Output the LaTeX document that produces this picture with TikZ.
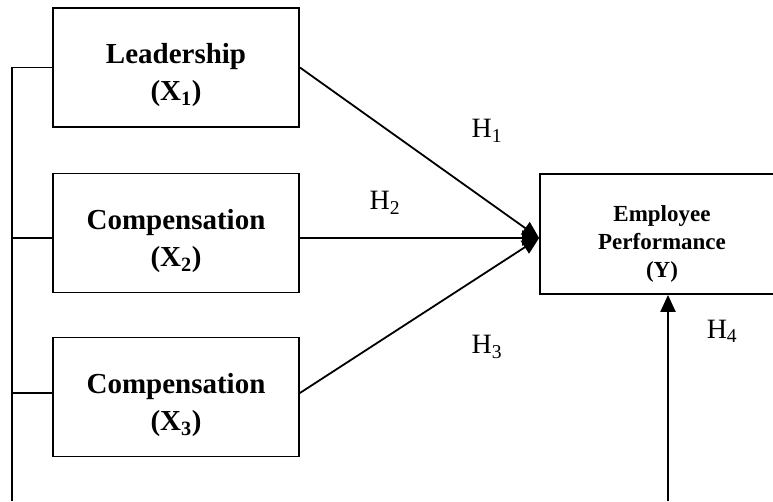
\documentclass[tikz,border=0pt]{standalone}
\usepackage{fontspec}
\setmainfont{Liberation Serif}
\usetikzlibrary{arrows.meta}

\newcommand\topgap[1]{\rule{0pt}{#1}}

\tikzset{
  var/.style={draw, line width=1.8pt, minimum width=246pt, minimum height=119pt,
    inner sep=0pt, align=center, font=\fontsize{29}{37}\selectfont\bfseries},
  dep/.style={var, minimum width=244pt, minimum height=120pt,
    font=\fontsize{23}{28}\selectfont\bfseries},
  hyp/.style={font=\fontsize{28}{30}\selectfont, inner sep=0pt},
  rel/.style={line width=1.8pt, -{Triangle[length=17pt,width=15pt]}}
}

\begin{document}
\begin{tikzpicture}[x=1pt,y=-1pt]
\useasboundingbox (0,0) rectangle (773,501);
\clip (0,0) rectangle (773,501);

\node (x1) [var] at (176,67.5) {\topgap{36pt}Leadership\\(X\textsubscript{1})};
\node (x2) [var] at (176,233) {\topgap{36pt}Compensation\\(X\textsubscript{2})};
\node (x3) [var] at (176,397) {\topgap{36pt}Compensation\\(X\textsubscript{3})};
\node (y) [dep] at (662,234) {\topgap{36pt}Employee\\Performance\\(Y)};

\path (12,501) coordinate (bus) (668,501) coordinate (yb);
\path ([yshift=-4pt]y.west) coordinate (yin);

\draw[line width=1.8pt] (x1.west) -| (bus);
\draw[line width=1.8pt] ([yshift=-5pt]x2.west) -- ++(-41,0);
\draw[line width=1.8pt] ([yshift=4pt]x3.west) -- ++(-41,0);

\draw[rel] (x1.east) -- (yin);
\draw[rel] ([yshift=-5pt]x2.east) -- (yin);
\draw[rel] ([yshift=4pt]x3.east) -- (yin);
\draw[rel, line width=2.2pt] (yb) -- (y.south -| yb);

\node (h1) [hyp] at (487,131) {H\textsubscript{1}};
\node (h2) [hyp] at (385,203) {H\textsubscript{2}};
\node (h3) [hyp] at (487,347) {H\textsubscript{3}};
\node (h4) [hyp] at (722,331) {H\textsubscript{4}};
\end{tikzpicture}
\end{document}
